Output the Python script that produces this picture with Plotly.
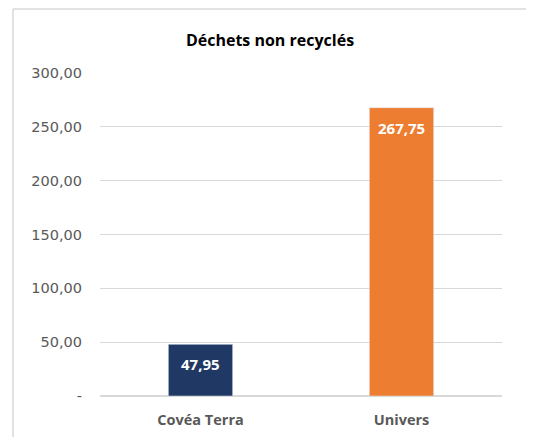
import plotly.graph_objects as go

categories = ["Covéa Terra", "Univers"]
values = [47.95, 267.75]
value_labels = ["47,95", "267,75"]
colors = ["#203864", "#ED7D31"]
tick_vals = [0, 50, 100, 150, 200, 250, 300]
tick_text = ["-", "50,00", "100,00", "150,00", "200,00", "250,00", "300,00"]

# page body has an 8px margin, so the figure is drawn 8px smaller / offset
W, H = 526, 429
L, R, T, B = 92, 32, 65, 41

fig = go.Figure(go.Bar(
    x=categories, y=values, marker_color=colors, width=0.32,
    hoverinfo="x+y",
))

for c, v, t in zip(categories, values, value_labels):
    fig.add_annotation(x=c, y=v, text="<b>" + t + "</b>", showarrow=False,
                       yanchor="middle", yshift=-20,
                       font=dict(family="Open Sans", size=15, color="white"))

pw = W - L - R
ph = H - T - B
x0 = (5 - L) / pw
y1 = 1 + (T - 1) / ph
fig.add_shape(type="line", xref="paper", yref="paper", x0=x0, x1=x0, y0=-0.5, y1=y1,
              line=dict(color="#D9D9D9", width=1.5))
fig.add_shape(type="line", xref="paper", yref="paper", x0=x0, x1=(W - L + 20) / pw, y0=y1, y1=y1,
              line=dict(color="#D9D9D9", width=1.5))

fig.update_layout(
    width=W, height=H,
    margin=dict(l=L, r=R, t=T, b=B, pad=0, autoexpand=False),
    paper_bgcolor="white", plot_bgcolor="white",
    title=dict(text="<b>Déchets non recyclés</b>", x=262 / W, xanchor="center",
               y=1 - 32 / H, yanchor="middle",
               font=dict(family="Open Sans", size=16, color="black")),
    showlegend=False,
    xaxis=dict(showline=False, ticks="", ticklabelstandoff=13,
               tickfont=dict(family="Open Sans", size=14.5, color="#595959", weight="bold"),
               fixedrange=True),
    yaxis=dict(range=[0, 300], tickvals=tick_vals, ticktext=tick_text,
               showgrid=True, gridcolor="#D9D9D9", gridwidth=1, zeroline=True, zerolinecolor="#D9D9D9",
               tickfont=dict(family="DejaVu Sans", size=14.5, color="#595959"),
               ticks="", ticklabelstandoff=17, fixedrange=True),
)

fig.write_html("out.html")
